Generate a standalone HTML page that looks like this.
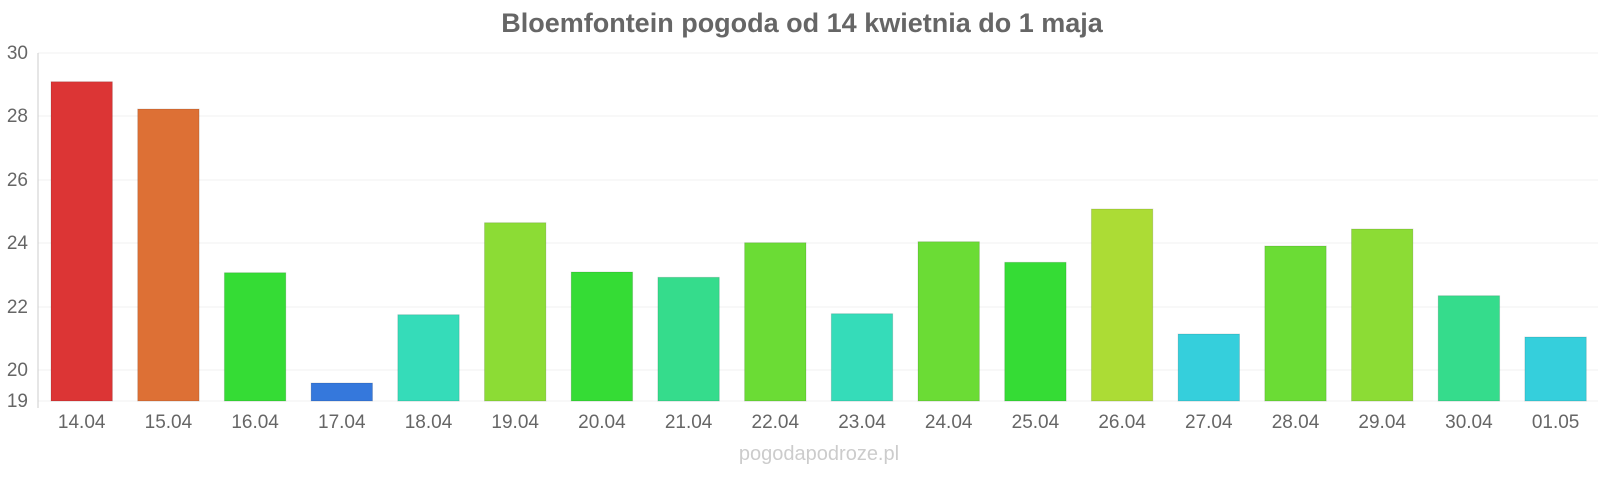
<!DOCTYPE html>
<html><head><meta charset="utf-8"><style>
body{margin:0;background:#fff;width:1600px;height:480px;overflow:hidden;font-family:"Liberation Sans",sans-serif}
</style></head><body>
<svg width="1600" height="480" xmlns="http://www.w3.org/2000/svg" font-family="Liberation Sans, sans-serif">
<text x="802" y="32" text-anchor="middle" font-size="27" font-weight="bold" fill="#666">Bloemfontein pogoda od 14 kwietnia do 1 maja</text>
<g stroke="#f0f0f0" stroke-width="1">
<line x1="38" x2="1598" y1="53" y2="53"/><line x1="38" x2="1598" y1="116" y2="116"/><line x1="38" x2="1598" y1="180" y2="180"/><line x1="38" x2="1598" y1="243" y2="243"/><line x1="38" x2="1598" y1="307" y2="307"/><line x1="38" x2="1598" y1="370" y2="370"/><line x1="38" x2="1598" y1="401" y2="401"/>
</g>
<line x1="38" x2="38" y1="53" y2="408" stroke="#ccc"/>
<g font-size="19" fill="#666" text-anchor="end">
<text x="28" y="59">30</text><text x="28" y="122">28</text><text x="28" y="186">26</text><text x="28" y="249">24</text><text x="28" y="313">22</text><text x="28" y="376">20</text><text x="28" y="407">19</text>
</g>
<g id="bars"></g>
<g font-size="19" fill="#666" text-anchor="middle" id="labels"></g>
<text x="819" y="460" text-anchor="middle" font-size="20" fill="#ccc">pogodapodroze.pl</text>
<script>
var tops=[81.7,109,272.7,383,314.7,222.7,272,277.3,242.7,313.7,241.7,262.3,209,334,246,229,295.7,337];
var cols=["#dc3535","#dd7035","#35dc35","#3578dc","#35dcb9","#8cdc35","#35dc35","#35dc8c","#6bdc35","#35dcb9","#6bdc35","#35dc35","#acdc35","#35cfdc","#6bdc35","#8cdc35","#35dc8c","#35cfdc"];
var labs=["14.04","15.04","16.04","17.04","18.04","19.04","20.04","21.04","22.04","23.04","24.04","25.04","26.04","27.04","28.04","29.04","30.04","01.05"];
var ns="http://www.w3.org/2000/svg",b=document.getElementById("bars"),l=document.getElementById("labels");
for(var i=0;i<18;i++){var cx=81.7+i*86.7;var r=document.createElementNS(ns,"rect");
r.setAttribute("x",cx-30.7);r.setAttribute("y",tops[i]);r.setAttribute("width",61.4);r.setAttribute("height",401-tops[i]);r.setAttribute("fill",cols[i]);r.setAttribute("stroke","rgba(0,0,0,0.12)");b.appendChild(r);
var t=document.createElementNS(ns,"text");t.setAttribute("x",cx);t.setAttribute("y",428);t.textContent=labs[i];l.appendChild(t);}
</script>
</svg>
</body></html>
